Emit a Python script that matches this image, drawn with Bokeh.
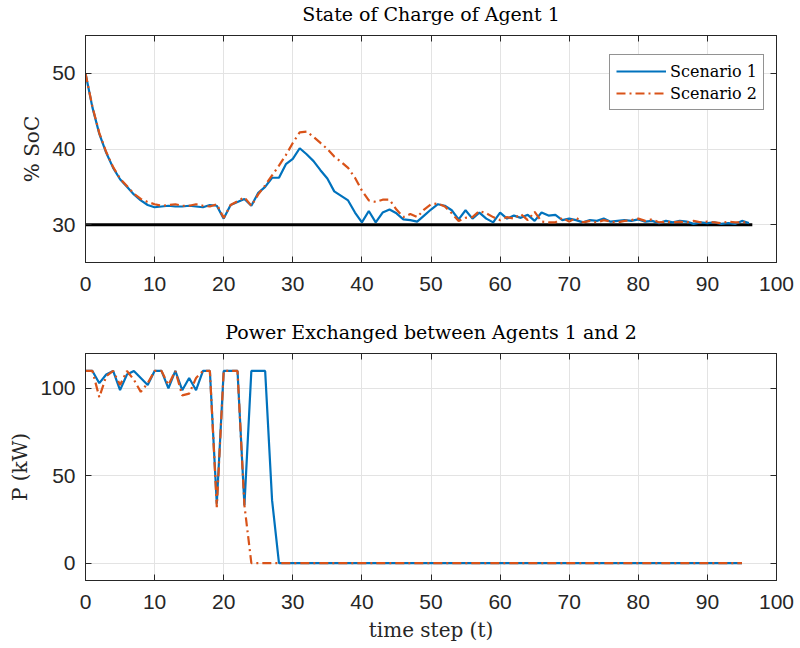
from bokeh.plotting import figure
from bokeh.layouts import column
from bokeh.models import (LinearAxis, Range1d, FixedTicker, Legend, LegendItem,
                          CustomLabelingPolicy)
from bokeh.embed import file_html
from bokeh.resources import INLINE

# ---------------- data ----------------
t_soc = list(range(0, 97))
soc_s1 = [50.0, 45.5, 42.0, 39.5, 37.5, 36.0, 35.0, 34.0, 33.2, 32.6,
          32.3, 32.4, 32.5, 32.4, 32.4, 32.5, 32.4, 32.3, 32.6, 32.5,
          30.8, 32.6, 33.0, 33.4, 32.5, 34.2, 35.0, 36.2, 36.2, 38.0,
          38.7, 40.1, 39.3, 38.4, 37.2, 36.1, 34.4, 33.8, 33.2, 31.6,
          30.3, 31.8, 30.3, 31.6, 32.0, 31.5, 30.7, 30.6, 30.4, 31.2,
          32.0, 32.7, 32.5, 31.9, 30.7, 31.9, 30.8, 31.6, 30.8, 30.3,
          31.6, 30.8, 31.2, 30.9, 31.3, 30.5, 31.6, 31.2, 31.3, 30.6,
          30.8, 30.6, 30.3, 30.6, 30.5, 30.8, 30.4, 30.5, 30.6, 30.5,
          30.7, 30.4, 30.5, 30.2, 30.5, 30.3, 30.5, 30.4, 30.1, 30.3,
          30.2, 30.3, 30.1, 30.2, 30.1, 30.5, 30.2]
soc_s2 = [50.0, 45.6, 42.1, 39.6, 37.6, 36.1, 35.1, 34.1, 33.4, 33.0,
          32.7, 32.5, 32.6, 32.7, 32.5, 32.5, 32.7, 32.5, 32.4, 32.7,
          30.9, 32.6, 33.1, 33.6, 32.5, 34.0, 35.2, 36.5, 37.8, 39.2,
          40.8, 42.2, 42.3, 41.6, 40.8, 40.0, 39.0, 38.3, 37.5, 36.2,
          34.5, 33.2, 33.0, 33.3, 33.3, 32.0, 31.0, 31.4, 31.0, 32.0,
          32.7, 32.8, 32.4, 31.5, 30.5, 30.9, 31.0, 31.8, 31.5, 31.0,
          30.6, 31.0, 30.8, 31.4, 30.6, 31.7, 30.4, 30.3, 30.3, 30.9,
          30.4, 30.9, 30.3, 30.5, 30.3, 30.6, 30.4, 30.3, 30.5, 30.6,
          30.8, 30.5, 30.7, 30.3, 30.4, 30.3, 30.4, 30.3, 30.5, 30.3,
          30.4, 30.3, 30.2, 30.4, 30.3, 30.3, 30.4]
soc_limit_x = [0, 96.5]
soc_limit_y = [30, 30]

t_pow = list(range(0, 96))
pow_s1 = [110, 110, 103, 108, 110, 99, 108, 110, 106, 102,
          110, 110, 100, 110, 99, 106, 99, 110, 110, 34,
          110, 110, 110, 33, 110, 110, 110, 36] + [0] * 68
pow_s2 = [110, 110, 95, 107, 110, 102, 110, 105, 98, 103,
          110, 110, 102, 110, 96, 97, 106, 110, 110, 32,
          110, 110, 110, 33, 0] + [0] * 71

x_ticks = list(range(0, 101, 10))
soc_ticks = [30, 40, 50]
pow_ticks = [0, 50, 100]

BLUE = "#0072BD"
ORANGE = "#D95319"
AX = "#262626"
GRID = "#e3e3e3"
SERIF = "DejaVu Serif"
SANS = "Liberation Sans"


def style(p, yticks, ylabel, xlabel=None):
    p.xaxis.ticker = FixedTicker(ticks=x_ticks)
    p.yaxis.ticker = FixedTicker(ticks=yticks)
    p.yaxis.axis_label = ylabel
    if xlabel:
        p.xaxis.axis_label = xlabel
    for ax in (p.xaxis, p.yaxis):
        ax.major_tick_in = 6
        ax.major_tick_out = 0
        ax.minor_tick_line_color = None
        ax.axis_line_color = AX
        ax.major_tick_line_color = AX
        ax.major_label_text_font = SANS
        ax.major_label_text_font_size = "21px"
        ax.major_label_text_color = AX
        ax.axis_label_text_font = SERIF
        ax.axis_label_text_font_style = "normal"
        ax.axis_label_text_font_size = "20px"
        ax.axis_label_text_color = AX
    p.xaxis.major_label_standoff = 14
    p.yaxis.major_label_standoff = 10
    p.xaxis.axis_label_standoff = 6
    p.yaxis.axis_label_standoff = 5
    p.grid.grid_line_color = GRID
    p.grid.grid_line_width = 1
    p.xgrid.ticker = FixedTicker(ticks=x_ticks)
    p.ygrid.ticker = FixedTicker(ticks=yticks)
    p.outline_line_color = AX
    p.outline_line_width = 1
    for loc, tk in (("above", x_ticks), ("right", yticks)):
        a = LinearAxis(ticker=FixedTicker(ticks=tk), major_tick_in=6,
                       major_tick_out=0, minor_tick_line_color=None,
                       major_label_policy=CustomLabelingPolicy(code="return new Set()"),
                       axis_line_color=AX, major_tick_line_color=AX,
                       major_label_standoff=0)
        p.add_layout(a, loc)
    p.title.text_font = SERIF
    p.title.text_font_style = "normal"
    p.title.text_font_size = "19px"
    p.title.text_color = "#000000"
    p.title.align = "center"
    p.title.standoff = 0
    p.background_fill_color = "white"
    p.border_fill_color = "white"


# ---------------- top figure ----------------
p1 = figure(width=800, height=318, output_backend="svg", toolbar_location=None,
            x_range=Range1d(0, 100), y_range=Range1d(25, 55),
            title="State of Charge of Agent 1",
            min_border_left=85, min_border_right=24,
            min_border_top=35, min_border_bottom=56)
style(p1, soc_ticks, "% SoC")
p1.line(soc_limit_x, soc_limit_y, line_color="black", line_width=3)
r1 = p1.line(t_soc, soc_s1, line_color=BLUE, line_width=2.2)
r2 = p1.line(t_soc, soc_s2, line_color=ORANGE, line_width=2.2,
             line_dash="9 4 2 4")
leg = Legend(items=[LegendItem(label="Scenario 1", renderers=[r1]),
                    LegendItem(label="Scenario 2", renderers=[r2])],
             location=(524, 152))
leg.label_text_font = SERIF
leg.label_text_font_size = "16px"
leg.label_text_color = "#000000"
leg.glyph_width = 50
leg.glyph_height = 20
leg.spacing = 2
leg.padding = 6
leg.border_line_color = AX
leg.border_line_width = 1
leg.background_fill_alpha = 1
leg.label_standoff = 4
p1.add_layout(leg)

# ---------------- bottom figure ----------------
p2 = figure(width=800, height=330, output_backend="svg", toolbar_location=None,
            x_range=Range1d(0, 100), y_range=Range1d(-10, 120),
            title="Power Exchanged between Agents 1 and 2",
            min_border_left=85, min_border_right=24,
            min_border_top=34, min_border_bottom=68)
style(p2, pow_ticks, "P (kW)", "time step (t)")
p2.line(t_pow, pow_s1, line_color=BLUE, line_width=2.2)
p2.line(t_pow, pow_s2, line_color=ORANGE, line_width=2.2, line_dash="9 4 2 4")

layout = column(p1, p2, spacing=0)
open("out.html", "w").write(file_html(layout, INLINE))
